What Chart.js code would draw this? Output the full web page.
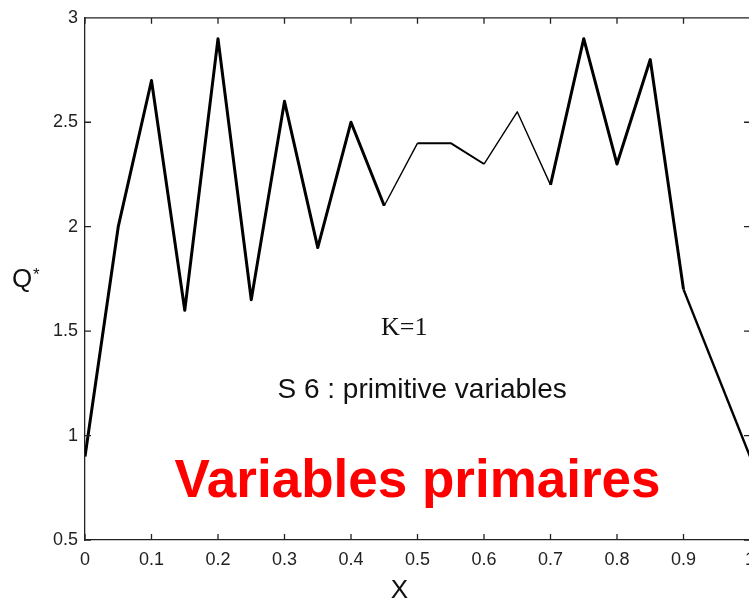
<!DOCTYPE html>
<html>
<head>
<meta charset="utf-8">
<script src="https://cdn.jsdelivr.net/npm/chart.js@4/dist/chart.umd.min.js"></script>
<style>
html,body{margin:0;padding:0;background:#fff;overflow:hidden;}
#wrap{width:770px;height:605px;}
</style>
</head>
<body>
<div id="wrap"><canvas id="grafica"></canvas></div>
<script>
// X positions and Q* values along the line
const xValues = [0, 0.05, 0.1, 0.15, 0.2, 0.25, 0.3, 0.35, 0.4, 0.45, 0.5,
                 0.55, 0.6, 0.65, 0.7, 0.75, 0.8, 0.85, 0.9, 1.0];
const qValues = [0.9, 2.0, 2.7, 1.6, 2.9, 1.65, 2.6, 1.9, 2.5, 2.1, 2.4,
                 2.4, 2.3, 2.55, 2.2, 2.9, 2.3, 2.8, 1.7, 0.9];

const xTicks = [0, 0.1, 0.2, 0.3, 0.4, 0.5, 0.6, 0.7, 0.8, 0.9, 1];
const yTicks = [0.5, 1, 1.5, 2, 2.5, 3];

const puntos = xValues.map((x, i) => ({x: x, y: qValues[i]}));

const fuente = "'Liberation Sans', Arial, Helvetica, sans-serif";

/* marco, ticks interiores y textos */
const marco = {
  id: "marco",
  afterDraw(chart) {
    const c = chart.ctx;
    const a = chart.chartArea;
    const sx = chart.scales.x;
    const sy = chart.scales.y;
    const tl = 6;

    c.save();
    c.strokeStyle = "#222";
    c.lineWidth = 1.3;
    c.beginPath();
    c.moveTo(a.left, a.top);
    c.lineTo(a.right, a.top);
    c.lineTo(a.right, a.bottom);
    xTicks.forEach(v => {
      const px = sx.getPixelForValue(v);
      c.moveTo(px, a.bottom); c.lineTo(px, a.bottom - tl);
      c.moveTo(px, a.top); c.lineTo(px, a.top + tl);
    });
    yTicks.forEach(v => {
      const py = sy.getPixelForValue(v);
      c.moveTo(a.left, py); c.lineTo(a.left + tl, py);
      c.moveTo(a.right, py); c.lineTo(a.right - tl, py);
    });
    c.stroke();

    c.fillStyle = "#111";
    c.textBaseline = "alphabetic";

    // titulos de ejes
    c.font = "26px " + fuente;
    c.textAlign = "left";
    c.fillText("Q", 12, 287);
    c.font = "17px " + fuente;
    c.fillText("*", 33, 280);
    c.font = "26px " + fuente;
    c.textAlign = "center";
    c.fillText("X", (a.left + a.right) / 2 - 18, 598);

    // anotaciones
    c.font = "26px 'Liberation Serif', 'Times New Roman', serif";
    c.fillText("K=1", sx.getPixelForValue(0.48), sy.getPixelForValue(1.48));
    c.font = "28px " + fuente;
    c.fillText("S 6 : primitive variables", sx.getPixelForValue(0.507), sy.getPixelForValue(1.18));
    c.fillStyle = "#ff0000";
    c.font = "bold 53px " + fuente;
    c.fillText("Variables primaires", sx.getPixelForValue(0.5), sy.getPixelForValue(0.705));
    c.restore();
  }
};

new Chart(document.getElementById("grafica"), {
  type: "line",
  data: {
    datasets: [{
      data: puntos,
      borderColor: "#000",
      borderWidth: 3,
      borderJoinStyle: "round",
      pointRadius: 0,
      tension: 0,
      segment: {
        borderWidth: ctx => {
          const x0 = ctx.p0.parsed.x;
          if (x0 >= 0.5 && x0 < 0.6) return 2;
          if (x0 >= 0.45 && x0 < 0.7) return 1.4;
          if (x0 >= 0.9) return 2.4;
          return 3;
        }
      }
    }]
  },
  options: {
    responsive: true,
    maintainAspectRatio: false,
    animation: false,
    layout: {padding: {left: 0, top: 17, right: 20, bottom: 0}},
    plugins: {legend: {display: false}, tooltip: {enabled: false}},
    scales: {
      x: {
        type: "linear",
        min: 0, max: 1,
        afterFit: s => { s.height = 65; },
        afterBuildTicks: s => { s.ticks = xTicks.map(v => ({value: v})); },
        grid: {display: false, drawTicks: false},
        border: {display: true, color: "#222", width: 1.3},
        ticks: {
          color: "#222",
          padding: 9,
          maxRotation: 0,
          font: {family: fuente, size: 18},
          callback: v => String(v)
        }
      },
      y: {
        min: 0.5, max: 3,
        afterFit: s => { s.width = 85; },
        afterBuildTicks: s => { s.ticks = yTicks.map(v => ({value: v})); },
        grid: {display: false, drawTicks: false},
        border: {display: true, color: "#222", width: 1.3},
        ticks: {
          color: "#222",
          padding: 7,
          font: {family: fuente, size: 18},
          callback: v => String(v)
        }
      }
    }
  },
  plugins: [marco]
});
</script>
</body>
</html>
